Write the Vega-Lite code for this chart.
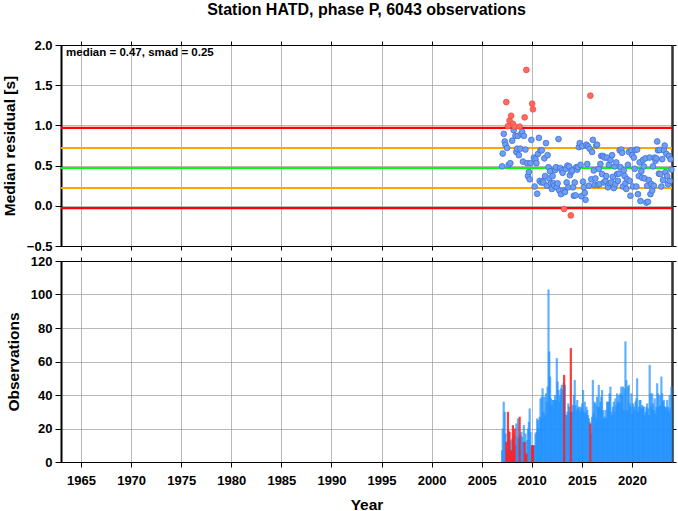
{
  "$schema": "https://vega.github.io/schema/vega-lite/v6.json",
  "padding": {"left": 1, "top": 1, "right": 2, "bottom": 1},
  "bounds": "flush",
  "spacing": 15,
  "config": {
    "font": "Liberation Sans",
    "view": {"stroke": "#000", "strokeWidth": 1},
    "axis": {
      "labelFont": "Liberation Sans", "labelFontSize": 13, "labelFontWeight": "bold", "labelColor": "#000",
      "titleFont": "Liberation Sans", "titleFontSize": 15.5, "titleFontWeight": "bold", "titleColor": "#000",
      "domainColor": "#000", "tickColor": "#000", "gridColor": "#999", "gridWidth": 0.7, "gridOpacity": 1
    }
  },
  "datasets": {
    "lines": [
      {"level": 0.97, "kind": "outer"},
      {"level": 0.72, "kind": "inner"},
      {"level": 0.47, "kind": "median"},
      {"level": 0.22, "kind": "inner"},
      {"level": -0.03, "kind": "outer"}
    ],
    "note": [{"label": "median = 0.47, smad = 0.25"}],
    "obs": [
      {"t": 2007.04, "m": 0.49, "n": 7}, {"t": 2007.10, "m": 0.65, "n": 20}, {"t": 2007.20, "m": 0.895, "n": 36}, {"t": 2007.30, "m": 0.80, "n": 30},
      {"t": 2007.38, "m": 0.76, "n": 17}, {"t": 2007.46, "m": 1.29, "n": 12}, {"t": 2007.54, "m": 0.72, "n": 8}, {"t": 2007.62, "m": 0.99, "n": 30},
      {"t": 2007.70, "m": 0.51, "n": 19}, {"t": 2007.78, "m": 1.06, "n": 18}, {"t": 2007.86, "m": 0.53, "n": 13}, {"t": 2007.94, "m": 1.12, "n": 7},
      {"t": 2008.04, "m": 0.81, "n": 14}, {"t": 2008.12, "m": 1.02, "n": 22}, {"t": 2008.20, "m": 0.94, "n": 16}, {"t": 2008.29, "m": 0.985, "n": 20},
      {"t": 2008.37, "m": 0.87, "n": 10}, {"t": 2008.46, "m": 0.67, "n": 23}, {"t": 2008.54, "m": 0.71, "n": 15}, {"t": 2008.62, "m": 0.87, "n": 26},
      {"t": 2008.71, "m": 0.63, "n": 14}, {"t": 2008.79, "m": 0.985, "n": 27}, {"t": 2008.87, "m": 0.71, "n": 16}, {"t": 2008.96, "m": 0.895, "n": 18},
      {"t": 2009.04, "m": 0.92, "n": 15}, {"t": 2009.12, "m": 0.55, "n": 12}, {"t": 2009.21, "m": 0.87, "n": 22}, {"t": 2009.29, "m": 1.10, "n": 12},
      {"t": 2009.37, "m": 0.70, "n": 17}, {"t": 2009.46, "m": 1.69, "n": 5}, {"t": 2009.54, "m": 0.53, "n": 13}, {"t": 2009.62, "m": 0.37, "n": 20},
      {"t": 2009.71, "m": 0.42, "n": 24}, {"t": 2009.79, "m": 0.33, "n": 32}, {"t": 2009.87, "m": 0.53, "n": 18}, {"t": 2009.96, "m": 0.82, "n": 10},
      {"t": 2010.04, "m": 1.27, "n": 10}, {"t": 2010.12, "m": 1.20, "n": 10}, {"t": 2010.21, "m": 0.60, "n": 10}, {"t": 2010.29, "m": 0.24, "n": 10},
      {"t": 2010.37, "m": 0.58, "n": 17}, {"t": 2010.46, "m": 0.53, "n": 18}, {"t": 2010.54, "m": 0.15, "n": 26}, {"t": 2010.62, "m": 0.645, "n": 25},
      {"t": 2010.71, "m": 0.845, "n": 20}, {"t": 2010.79, "m": 0.31, "n": 27}, {"t": 2010.87, "m": 0.69, "n": 38}, {"t": 2010.96, "m": 0.29, "n": 26},
      {"t": 2011.00, "m": 0.69, "n": 39}, {"t": 2011.08, "m": 0.31, "n": 44}, {"t": 2011.17, "m": 0.29, "n": 30}, {"t": 2011.25, "m": 0.59, "n": 39},
      {"t": 2011.33, "m": 0.37, "n": 28}, {"t": 2011.42, "m": 0.78, "n": 41}, {"t": 2011.50, "m": 0.25, "n": 36}, {"t": 2011.58, "m": 0.63, "n": 45},
      {"t": 2011.67, "m": 0.48, "n": 103}, {"t": 2011.75, "m": 0.34, "n": 66}, {"t": 2011.83, "m": 0.43, "n": 51}, {"t": 2011.92, "m": 0.28, "n": 38},
      {"t": 2012.00, "m": 0.21, "n": 34}, {"t": 2012.08, "m": 0.37, "n": 37}, {"t": 2012.17, "m": 0.28, "n": 37}, {"t": 2012.25, "m": 0.25, "n": 37},
      {"t": 2012.33, "m": 0.445, "n": 40}, {"t": 2012.42, "m": 0.48, "n": 37}, {"t": 2012.50, "m": 0.23, "n": 62}, {"t": 2012.58, "m": 0.28, "n": 48},
      {"t": 2012.67, "m": 0.83, "n": 43}, {"t": 2012.75, "m": 0.19, "n": 36}, {"t": 2012.83, "m": 0.47, "n": 40}, {"t": 2012.92, "m": 0.145, "n": 44},
      {"t": 2013.00, "m": 0.44, "n": 46}, {"t": 2013.08, "m": 0.41, "n": 43}, {"t": 2013.17, "m": 0.19, "n": 47}, {"t": 2013.23, "m": -0.04, "n": 52},
      {"t": 2013.31, "m": 0.17, "n": 46}, {"t": 2013.40, "m": 0.46, "n": 28}, {"t": 2013.48, "m": 0.29, "n": 28}, {"t": 2013.56, "m": 0.50, "n": 30},
      {"t": 2013.65, "m": 0.23, "n": 35}, {"t": 2013.73, "m": 0.49, "n": 33}, {"t": 2013.81, "m": 0.38, "n": 30}, {"t": 2013.90, "m": -0.12, "n": 68},
      {"t": 2013.96, "m": 0.42, "n": 30},
      {"t": 2014.04, "m": 0.44, "n": 30}, {"t": 2014.12, "m": 0.23, "n": 34}, {"t": 2014.20, "m": 0.125, "n": 40}, {"t": 2014.29, "m": 0.29, "n": 49},
      {"t": 2014.37, "m": 0.13, "n": 34}, {"t": 2014.45, "m": 0.48, "n": 31}, {"t": 2014.54, "m": 0.45, "n": 37}, {"t": 2014.62, "m": 0.48, "n": 32},
      {"t": 2014.70, "m": 0.73, "n": 33}, {"t": 2014.79, "m": 0.78, "n": 30}, {"t": 2014.87, "m": 0.51, "n": 33}, {"t": 2014.95, "m": 0.12, "n": 32},
      {"t": 2015.04, "m": 0.74, "n": 35}, {"t": 2015.12, "m": 0.30, "n": 43}, {"t": 2015.20, "m": 0.23, "n": 30}, {"t": 2015.29, "m": 0.16, "n": 36},
      {"t": 2015.37, "m": 0.075, "n": 29}, {"t": 2015.45, "m": 0.76, "n": 33}, {"t": 2015.54, "m": 0.52, "n": 31}, {"t": 2015.62, "m": 0.74, "n": 28},
      {"t": 2015.70, "m": 0.25, "n": 26}, {"t": 2015.78, "m": 0.71, "n": 24}, {"t": 2015.85, "m": 1.37, "n": 23}, {"t": 2015.94, "m": 0.33, "n": 17},
      {"t": 2016.02, "m": 0.67, "n": 27}, {"t": 2016.10, "m": 0.82, "n": 49}, {"t": 2016.19, "m": 0.44, "n": 29}, {"t": 2016.27, "m": 0.26, "n": 36},
      {"t": 2016.35, "m": 0.34, "n": 35}, {"t": 2016.44, "m": 0.75, "n": 26}, {"t": 2016.52, "m": 0.76, "n": 39}, {"t": 2016.60, "m": 0.26, "n": 33},
      {"t": 2016.69, "m": 0.46, "n": 46}, {"t": 2016.77, "m": 0.27, "n": 33}, {"t": 2016.85, "m": 0.52, "n": 36}, {"t": 2016.94, "m": 0.62, "n": 39},
      {"t": 2017.02, "m": 0.395, "n": 43}, {"t": 2017.10, "m": 0.62, "n": 31}, {"t": 2017.19, "m": 0.29, "n": 26}, {"t": 2017.27, "m": 0.60, "n": 27},
      {"t": 2017.35, "m": 0.31, "n": 31}, {"t": 2017.44, "m": 0.37, "n": 26}, {"t": 2017.52, "m": 0.60, "n": 36}, {"t": 2017.60, "m": 0.23, "n": 36},
      {"t": 2017.69, "m": 0.51, "n": 36}, {"t": 2017.77, "m": 0.28, "n": 41}, {"t": 2017.85, "m": 0.57, "n": 45}, {"t": 2017.94, "m": 0.29, "n": 30},
      {"t": 2018.02, "m": 0.63, "n": 28}, {"t": 2018.10, "m": 0.36, "n": 33}, {"t": 2018.19, "m": 0.22, "n": 36}, {"t": 2018.27, "m": 0.49, "n": 30},
      {"t": 2018.35, "m": 0.27, "n": 38}, {"t": 2018.44, "m": 0.54, "n": 34}, {"t": 2018.52, "m": 0.395, "n": 41}, {"t": 2018.60, "m": 0.31, "n": 36},
      {"t": 2018.69, "m": 0.40, "n": 40}, {"t": 2018.77, "m": 0.69, "n": 35}, {"t": 2018.85, "m": 0.48, "n": 41}, {"t": 2018.94, "m": 0.70, "n": 45},
      {"t": 2019.02, "m": 0.66, "n": 40}, {"t": 2019.10, "m": 0.24, "n": 45}, {"t": 2019.19, "m": 0.44, "n": 31}, {"t": 2019.27, "m": 0.37, "n": 44},
      {"t": 2019.35, "m": 0.28, "n": 72}, {"t": 2019.44, "m": 0.21, "n": 49}, {"t": 2019.52, "m": 0.33, "n": 31}, {"t": 2019.60, "m": 0.51, "n": 45},
      {"t": 2019.69, "m": 0.67, "n": 46}, {"t": 2019.77, "m": 0.31, "n": 35}, {"t": 2019.85, "m": 0.125, "n": 33}, {"t": 2019.94, "m": 0.69, "n": 41},
      {"t": 2020.02, "m": 0.63, "n": 29}, {"t": 2020.10, "m": 0.24, "n": 35}, {"t": 2020.19, "m": 0.60, "n": 33}, {"t": 2020.27, "m": 0.46, "n": 31},
      {"t": 2020.35, "m": 0.695, "n": 36}, {"t": 2020.44, "m": 0.24, "n": 38}, {"t": 2020.52, "m": 0.70, "n": 50}, {"t": 2020.60, "m": 0.145, "n": 30},
      {"t": 2020.69, "m": 0.37, "n": 33}, {"t": 2020.77, "m": 0.54, "n": 37}, {"t": 2020.85, "m": 0.06, "n": 37}, {"t": 2020.94, "m": 0.43, "n": 32},
      {"t": 2021.02, "m": 0.35, "n": 34}, {"t": 2021.10, "m": 0.57, "n": 33}, {"t": 2021.19, "m": 0.49, "n": 33}, {"t": 2021.27, "m": 0.34, "n": 28},
      {"t": 2021.35, "m": 0.59, "n": 30}, {"t": 2021.44, "m": 0.04, "n": 33}, {"t": 2021.52, "m": 0.25, "n": 35}, {"t": 2021.60, "m": 0.05, "n": 32},
      {"t": 2021.69, "m": 0.32, "n": 28}, {"t": 2021.77, "m": 0.60, "n": 58}, {"t": 2021.85, "m": 0.145, "n": 41}, {"t": 2021.94, "m": 0.27, "n": 33},
      {"t": 2022.02, "m": 0.19, "n": 41}, {"t": 2022.10, "m": 0.49, "n": 35}, {"t": 2022.19, "m": 0.25, "n": 31}, {"t": 2022.27, "m": 0.60, "n": 38},
      {"t": 2022.35, "m": 0.56, "n": 29}, {"t": 2022.44, "m": 0.59, "n": 33}, {"t": 2022.52, "m": 0.80, "n": 47}, {"t": 2022.60, "m": 0.69, "n": 41},
      {"t": 2022.69, "m": 0.40, "n": 33}, {"t": 2022.77, "m": 0.695, "n": 40}, {"t": 2022.85, "m": 0.395, "n": 34}, {"t": 2022.94, "m": 0.24, "n": 51},
      {"t": 2023.02, "m": 0.58, "n": 41}, {"t": 2023.10, "m": 0.32, "n": 36}, {"t": 2023.19, "m": 0.69, "n": 37}, {"t": 2023.27, "m": 0.75, "n": 33},
      {"t": 2023.35, "m": 0.42, "n": 33}, {"t": 2023.44, "m": 0.645, "n": 32}, {"t": 2023.52, "m": 0.37, "n": 37}, {"t": 2023.60, "m": 0.27, "n": 33},
      {"t": 2023.69, "m": 0.62, "n": 30}, {"t": 2023.77, "m": 0.31, "n": 40}, {"t": 2023.85, "m": 0.58, "n": 32}, {"t": 2023.94, "m": 0.45, "n": 45}
    ]
  },
  "vconcat": [
    {
      "width": 611,
      "height": 201,
      "title": {"text": "Station HATD, phase P, 6043 observations", "font": "Liberation Sans", "fontSize": 16, "fontWeight": "bold", "color": "#000", "anchor": "middle", "offset": 21},
      "resolve": {"axis": {"x": "independent", "y": "independent"}},
      "layer": [
        {
          "data": {"name": "lines"},
          "mark": {"type": "rule"},
          "encoding": {
            "y": {"field": "level", "type": "quantitative", "scale": {"domain": [-0.5, 2], "nice": false, "zero": false},
                  "axis": {"orient": "left", "title": "Median residual [s]", "values": [-0.5, 0, 0.5, 1, 1.5, 2], "format": ".1f", "tickSize": 6, "labelPadding": 3, "titlePadding": 9, "domainWidth": 2, "grid": true}},
            "color": {"field": "kind", "type": "nominal", "scale": {"domain": ["outer", "inner", "median"], "range": ["#ff0000", "#ffa500", "#00ff00"]}, "legend": null},
            "strokeWidth": {"field": "kind", "type": "nominal", "scale": {"domain": ["outer", "inner", "median"], "range": [2.2, 1.8, 4]}, "legend": null}
          }
        },
        {
          "data": {"name": "obs"},
          "transform": [{"filter": "datum.m <= 0.97 && datum.m >= -0.03"}],
          "mark": {"type": "circle", "size": 33, "fill": "#6f9ff0", "stroke": "#3d6fe0", "strokeWidth": 0.8, "opacity": 1},
          "encoding": {
            "x": {"field": "t", "type": "quantitative", "scale": {"domain": [1963, 2024], "nice": false, "zero": false, "padding": 0},
                  "axis": {"orient": "bottom", "title": null, "labels": false, "values": [1965, 1970, 1975, 1980, 1985, 1990, 1995, 2000, 2005, 2010, 2015, 2020], "tickSize": 4, "grid": true}},
            "y": {"field": "m", "type": "quantitative", "scale": {"domain": [-0.5, 2], "nice": false, "zero": false},
                  "axis": {"orient": "right", "title": null, "labels": false, "values": [-0.5, 0, 0.5, 1, 1.5, 2], "tickSize": 4, "grid": false, "domainWidth": 2.5, "domainColor": "#333"}}
          }
        },
        {
          "data": {"name": "obs"},
          "transform": [{"filter": "datum.m > 0.97 || datum.m < -0.03"}],
          "mark": {"type": "circle", "size": 33, "fill": "#ff6b61", "stroke": "#f04a3d", "strokeWidth": 0.8, "opacity": 1},
          "encoding": {
            "x": {"field": "t", "type": "quantitative", "scale": {"domain": [1963, 2024], "nice": false, "zero": false, "padding": 0},
                  "axis": {"orient": "top", "title": null, "labels": false, "values": [1965, 1970, 1975, 1980, 1985, 1990, 1995, 2000, 2005, 2010, 2015, 2020], "tickSize": 4, "grid": false}},
            "y": {"field": "m", "type": "quantitative", "axis": null}
          }
        },
        {
          "data": {"name": "note"},
          "mark": {"type": "text", "align": "left", "baseline": "middle", "font": "Liberation Sans", "fontSize": 11.5, "fontWeight": "bold", "color": "#000"},
          "encoding": {
            "x": {"datum": 1963.5, "type": "quantitative", "axis": null},
            "y": {"datum": 1.9, "type": "quantitative", "axis": null},
            "text": {"field": "label"}
          }
        }
      ]
    },
    {
      "width": 611,
      "height": 201,
      "data": {"name": "obs"},
      "resolve": {"axis": {"x": "independent", "y": "independent"}},
      "layer": [
        {
          "transform": [{"filter": "datum.m <= 0.97 && datum.m >= -0.03"}],
          "mark": {"type": "bar", "size": 2.2, "color": "#1e90ff", "opacity": 0.7},
          "encoding": {
            "x": {"field": "t", "type": "quantitative", "scale": {"domain": [1963, 2024], "nice": false, "zero": false, "padding": 0},
                  "axis": {"orient": "bottom", "title": "Year", "format": "d", "values": [1965, 1970, 1975, 1980, 1985, 1990, 1995, 2000, 2005, 2010, 2015, 2020], "tickSize": 5, "labelPadding": 7, "titlePadding": 10, "grid": true}},
            "y": {"field": "n", "type": "quantitative", "scale": {"domain": [0, 120], "nice": false},
                  "axis": {"orient": "left", "title": "Observations", "values": [0, 20, 40, 60, 80, 100, 120], "tickSize": 6, "labelPadding": 3, "titlePadding": 9, "domainWidth": 2, "grid": true}}
          }
        },
        {
          "transform": [{"filter": "datum.m > 0.97 || datum.m < -0.03"}],
          "mark": {"type": "bar", "size": 2.2, "color": "#ff1a1a", "opacity": 0.85},
          "encoding": {
            "x": {"field": "t", "type": "quantitative", "scale": {"domain": [1963, 2024], "nice": false, "zero": false, "padding": 0},
                  "axis": {"orient": "top", "title": null, "labels": false, "values": [1965, 1970, 1975, 1980, 1985, 1990, 1995, 2000, 2005, 2010, 2015, 2020], "tickSize": 4, "grid": false}},
            "y": {"field": "n", "type": "quantitative", "scale": {"domain": [0, 120], "nice": false},
                  "axis": {"orient": "right", "title": null, "labels": false, "values": [0, 20, 40, 60, 80, 100, 120], "tickSize": 4, "grid": false, "domainWidth": 2.5, "domainColor": "#333"}}
          }
        }
      ]
    }
  ]
}
